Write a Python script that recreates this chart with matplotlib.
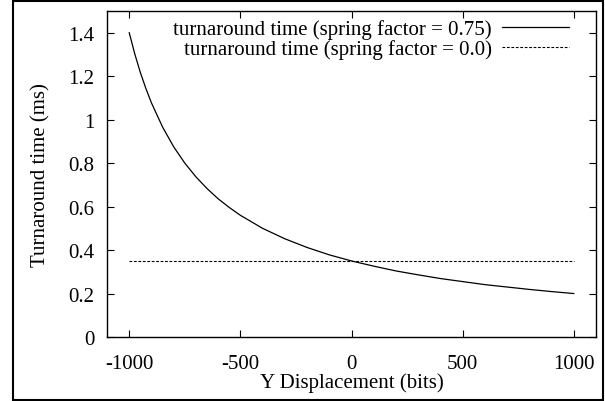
import matplotlib
matplotlib.use("Agg")
import matplotlib.pyplot as plt
from matplotlib.patches import Rectangle

# values
displacement = [-1000, -975, -950, -925, -900, -850, -800, -750, -700, -650,
                -600, -550, -500, -400, -300, -200, -100, 0, 100, 200,
                300, 400, 500, 600, 700, 800, 900, 1000]
time_spring = [1.400, 1.302, 1.217, 1.143, 1.077, 0.966, 0.875, 0.800, 0.737, 0.683,
               0.636, 0.596, 0.560, 0.500, 0.452, 0.412, 0.378, 0.350, 0.326, 0.304,
               0.286, 0.269, 0.255, 0.241, 0.230, 0.219, 0.209, 0.200]
flat_x = [-1000, 1000]
flat_y = [0.35, 0.35]

xticks = [-1000, -500, 0, 500, 1000]
yticks = [0, 0.2, 0.4, 0.6, 0.8, 1, 1.2, 1.4]
yticklabels = ["0", "0.2", "0.4", "0.6", "0.8", "1", "1.2", "1.4"]

plt.rcParams['font.family'] = ['Liberation Serif', 'DejaVu Serif']
plt.rcParams['font.size'] = 15

fig = plt.figure(figsize=(6.05, 4.02), dpi=100)
ax = fig.add_axes([0.1769, 0.1592, 0.8082, 0.8109])

ax.plot(displacement, time_spring, color='black', lw=0.9,
        label="turnaround time (spring factor = 0.75)")
ax.plot(flat_x, flat_y, color='black', lw=0.8, linestyle=(0, (2.5, 1.5)),
        label="turnaround time (spring factor = 0.0)")

ax.set_xlim(-1100, 1100)
ax.set_ylim(0, 1.5)
ax.set_xticks(xticks)
ax.set_xticklabels([str(t) for t in xticks])
ax.set_yticks(yticks)
ax.set_yticklabels(yticklabels)
ax.tick_params(direction='in', length=5, width=0.8, top=True, right=True)
ax.tick_params(axis='x', pad=12)
ax.tick_params(axis='y', pad=9)
for s in ax.spines.values():
    s.set_linewidth(1.0)

ax.set_xlabel("Y Displacement (bits)", labelpad=0)
ax.set_ylabel("Turnaround time (ms)", labelpad=13)

ax.legend(loc='upper right', frameon=False, markerfirst=False, handlelength=3.2,
          borderaxespad=0, borderpad=0, labelspacing=0.0, handletextpad=0.5,
          bbox_to_anchor=(0.945, 0.975))

# border round the whole picture
fig.patches.append(Rectangle((0.0223, 0.0037), 0.9744, 0.9913, transform=fig.transFigure,
                             fill=False, edgecolor='black', lw=1.5))

fig.savefig("out.png", dpi=100)
